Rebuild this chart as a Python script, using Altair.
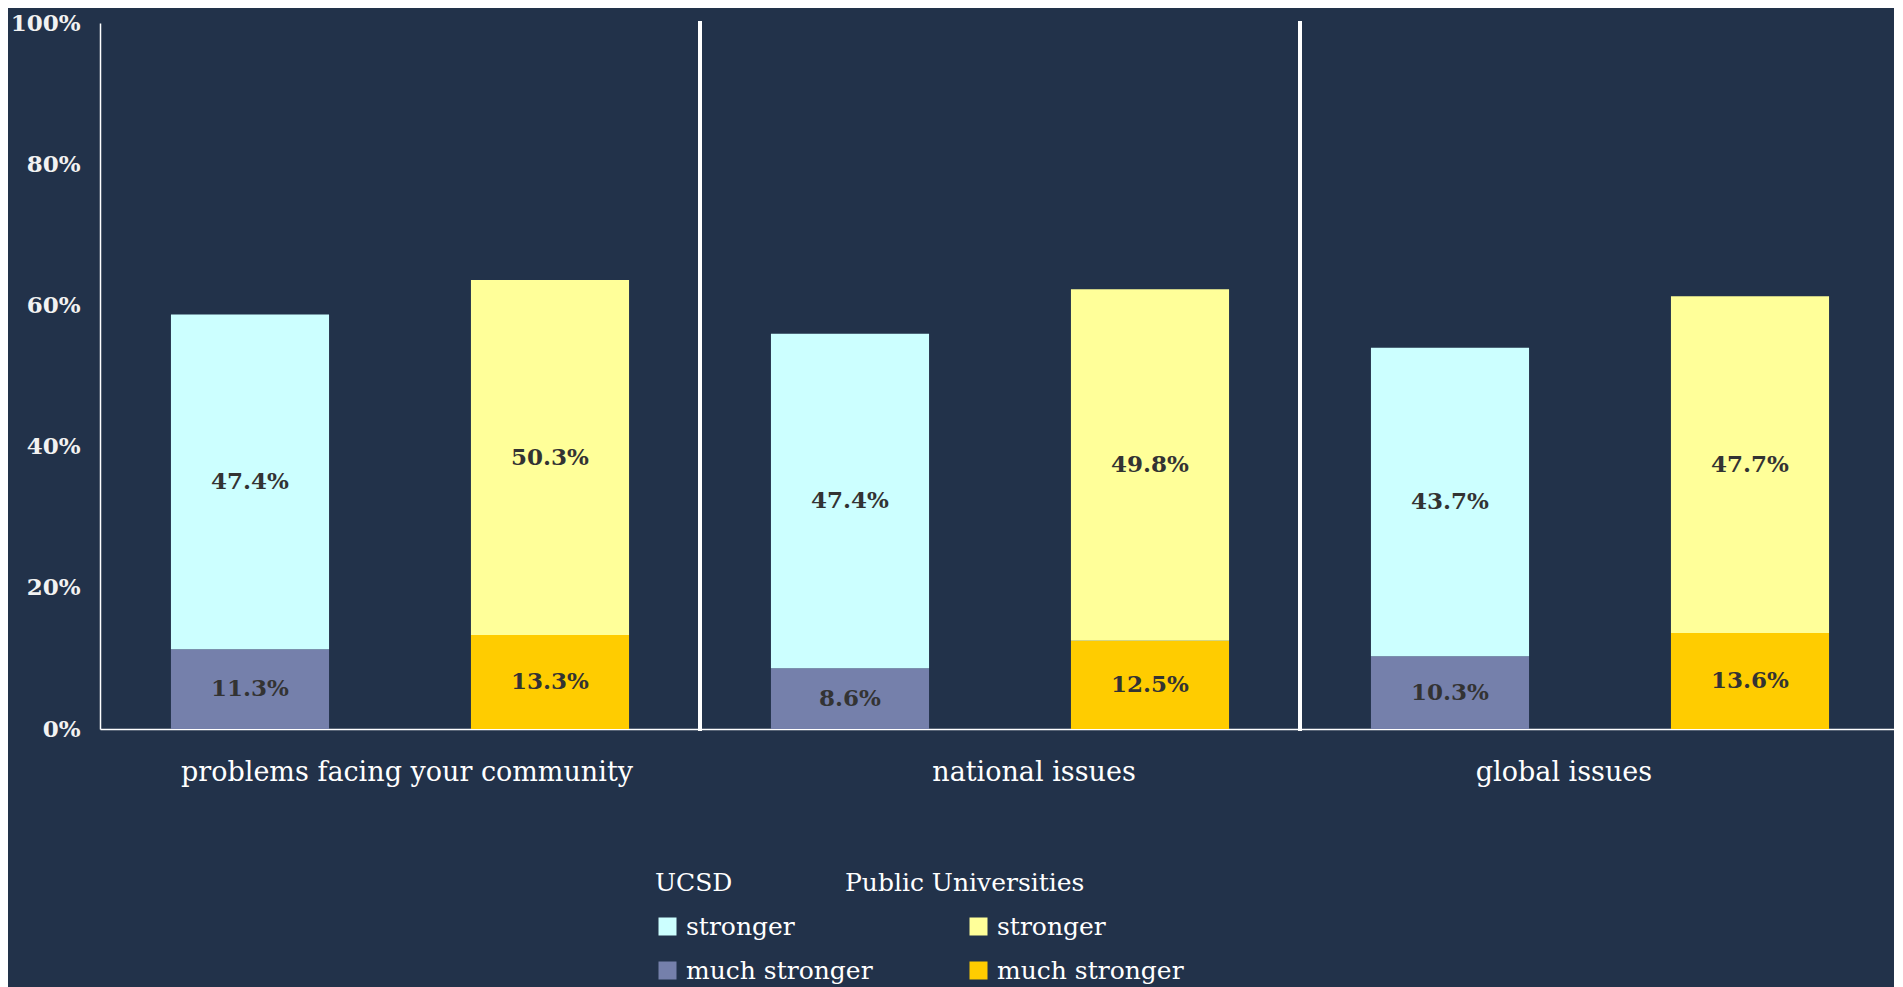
import altair as alt
import pandas as pd

# ---- data ----
categories = ["problems facing your community", "national issues", "global issues"]
groups = ["UCSD", "Public Universities"]
levels = ["stronger", "much stronger"]

ucsd_much = [11.3, 8.6, 10.3]
ucsd_stronger = [47.4, 47.4, 43.7]
pub_much = [13.3, 12.5, 13.6]
pub_stronger = [50.3, 49.8, 47.7]

rows = []
for i, c in enumerate(categories):
    rows.append(dict(cat=c, group="UCSD", level="much stronger", ord=1, value=ucsd_much[i]))
    rows.append(dict(cat=c, group="UCSD", level="stronger", ord=2, value=ucsd_stronger[i]))
    rows.append(dict(cat=c, group="Public Universities", level="much stronger", ord=1, value=pub_much[i]))
    rows.append(dict(cat=c, group="Public Universities", level="stronger", ord=2, value=pub_stronger[i]))
df = pd.DataFrame(rows)
sep_df = pd.DataFrame({"cat": categories[1:]})

FONT = "DejaVu Serif"
BG = "#22324A"
WHITE = "#FFFFFF"

x_axis = alt.Axis(
    title=None, ticks=False, tickSize=0, domainColor=WHITE, domainWidth=1.5,
    labelFont=FONT, labelFontSize=27, labelColor=WHITE, labelPadding=30, labelAngle=0,
    labelLimit=1000,
    labelOffset={"condition": [
        {"test": "datum.value === 'national issues'", "value": 34},
        {"test": "datum.value === 'global issues'", "value": -36}],
        "value": 7},
)
x_scale = alt.Scale(domain=categories, paddingInner=0, paddingOuter=0)
x_enc = alt.X("cat:N", sort=categories, scale=x_scale, axis=x_axis)
xoff = alt.XOffset("group:N", scale=alt.Scale(domain=groups, paddingInner=0.473, paddingOuter=0.2365))
y_scale = alt.Scale(domain=[0, 100], nice=False)
y_axis = alt.Axis(
    title=None, values=[0, 20, 40, 60, 80, 100], labelExpr="datum.value + '%'",
    grid=False, ticks=False, tickSize=0, domainColor=WHITE, domainWidth=1.5,
    labelFont=FONT, labelFontSize=23, labelFontWeight="bold", labelColor="#F2F2F2",
    labelPadding=20,
)

def legend(title, lx, sym_off=0):
    return alt.Legend(
        title=title, orient="none", legendX=lx, legendY=848, direction="vertical",
        symbolType="square", symbolSize=324, symbolStrokeWidth=0, symbolOffset=sym_off,
        labelFont=FONT, labelFontSize=25, labelColor=WHITE, labelOffset=6, labelLimit=1000,
        titleFont=FONT, titleFontSize=25, titleFontWeight="normal", titleColor=WHITE,
        titleLimit=1000, titlePadding=18, rowPadding=18, padding=0,
    )

base = alt.Chart(df).transform_stack(
    stack="value", groupby=["cat", "group"],
    sort=[alt.SortField("ord", order="ascending")], as_=["v0", "v1"],
).transform_calculate(
    mid="(datum.v0 + datum.v1) / 2",
    label="format(datum.value, '.1f') + '%'",
)

ucsd = base.transform_filter(alt.datum.group == "UCSD").mark_bar().encode(
    x=x_enc, xOffset=xoff,
    y=alt.Y("v1:Q", scale=y_scale, axis=y_axis), y2="v0:Q",
    fill=alt.Fill("level:N", scale=alt.Scale(domain=levels, range=["#CCFFFF", "#7580AB"]),
                  legend=legend("UCSD", 555)),
)
pub = base.transform_filter(alt.datum.group == "Public Universities").mark_bar().encode(
    x=x_enc, xOffset=xoff,
    y=alt.Y("v1:Q", scale=y_scale, axis=y_axis), y2="v0:Q",
    fill=alt.Fill("level:N", scale=alt.Scale(domain=levels, range=["#FFFF99", "#FFCC00"]),
                  legend=legend("Public Universities", 745, 121)),
)
labels = base.mark_text(font=FONT, fontSize=23, fontWeight="bold", color="#333333").encode(
    x=x_enc, xOffset=xoff,
    y=alt.Y("mid:Q", scale=y_scale, axis=y_axis),
    text="label:N",
)
seps = alt.Chart(sep_df).mark_rule(color=WHITE, strokeWidth=4, strokeCap="square").encode(
    x=alt.X("cat:N", sort=categories, scale=x_scale, axis=x_axis, bandPosition=0),
    y=alt.datum(100, scale=y_scale, axis=y_axis), y2=alt.datum(0),
)

chart = alt.layer(ucsd, pub, labels, seps).resolve_scale(fill="independent").properties(
    width=1800, height=706, background=BG,
    padding={"left": 92, "top": 15, "right": -6, "bottom": 258},
    autosize=alt.AutoSizeParams(type="none"),
).configure_view(stroke=None)

chart.save("out.html", embed_options={"renderer": "svg", "actions": False})
